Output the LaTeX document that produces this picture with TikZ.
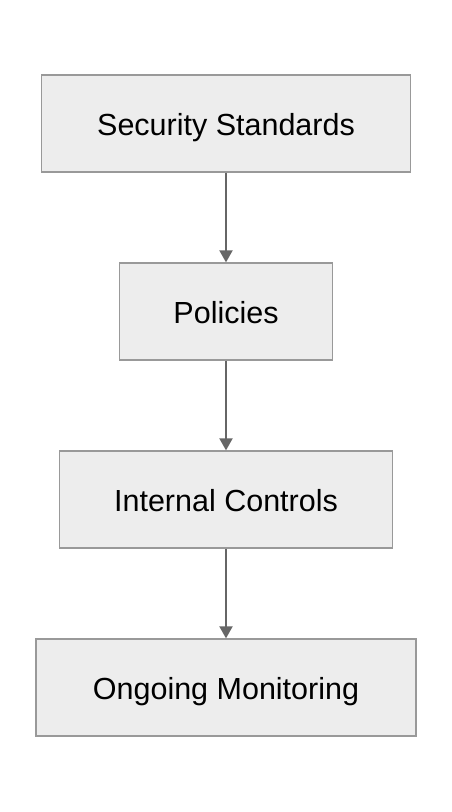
\documentclass[tikz,border=0pt]{standalone}
\usepackage{fontspec}
\setmainfont{Liberation Sans}
\usetikzlibrary{arrows.meta}
\begin{document}
\begin{tikzpicture}[x=1pt,y=1pt,
  box/.style={draw=black!40, fill=black!7, line width=1.3pt, minimum height=97pt, inner sep=0pt, text height=25pt, text depth=2pt, font=\fontsize{30.5}{34}\selectfont, text=black},
  conn/.style={draw=black!60, line width=2pt, -{Triangle[length=12pt,width=13pt]}}]
\useasboundingbox[fill=white] (0,0) rectangle (452,-812);
\node[box, minimum width=369pt] (a) at (226,-123.5) {Security Standards};
\node[box, minimum width=213pt] (b) at (226,-311.5) {Policies};
\node[box, minimum width=333pt] (c) at (226,-499.5) {Internal Controls};
\node[box, minimum width=380pt] (d) at (226,-687.5) {Ongoing Monitoring};
\draw[conn] (a) -- (b);
\draw[conn] (b) -- (c);
\draw[conn] (c) -- (d);
\end{tikzpicture}
\end{document}
